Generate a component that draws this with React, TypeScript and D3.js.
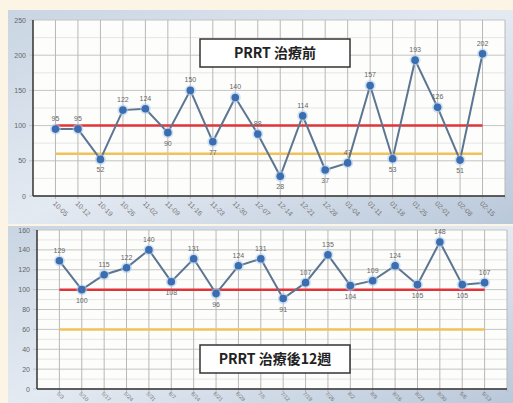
import * as d3 from "d3";

// values
const beforeDates = [
  "10-05", "10-12", "10-19", "10-26", "11-02", "11-09", "11-16", "11-23", "11-30", "12-07",
  "12-14", "12-21", "12-28", "01-04", "01-11", "01-18", "01-25", "02-01", "02-08", "02-15",
];
const beforeValues = [95, 95, 52, 122, 124, 90, 150, 77, 140, 88, 28, 114, 37, 47, 157, 53, 193, 126, 51, 202];
const beforeTicks = [0, 50, 100, 150, 200, 250];

const afterDates = [
  "5/3", "5/10", "5/17", "5/24", "5/31", "6/7", "6/14", "6/21", "6/28", "7/5",
  "7/12", "7/19", "7/26", "8/2", "8/9", "8/16", "8/23", "8/30", "9/6", "9/13",
];
const afterValues = [129, 100, 115, 122, 140, 108, 131, 96, 124, 131, 91, 107, 135, 104, 109, 124, 105, 148, 105, 107];
const afterTicks = [0, 20, 40, 60, 80, 100, 120, 140, 160];

const redLevel = 100;
const orangeLevel = 60;

interface PanelProps {
  id: string;
  top: number;
  bottom: number;
  plotLeft: number;
  plotRight: number;
  plotTop: number;
  plotBottom: number;
  values: number[];
  dates: string[];
  ticks: number[];
  title: string;
  titleY: number;
  dateSize: number;
  dateGap: number;
}

function Panel({ id, top, bottom, plotLeft, plotRight, plotTop, plotBottom, values, dates, ticks, title, titleY, dateSize, dateGap }: PanelProps) {
  const yMax = ticks[ticks.length - 1];
  const x = d3.scaleLinear().domain([-1, values.length]).range([plotLeft, plotRight]);
  const y = d3.scaleLinear().domain([0, yMax]).range([plotBottom, plotTop]);
  const step = ticks[1] - ticks[0];
  const minor = d3.range(step / 2, yMax, step);
  const line = d3
    .line<number>()
    .x((_, i) => x(i))
    .y((d) => y(d));

  // labels go under the local lows
  const below = (i: number) => {
    const prev = i > 0 ? values[i - 1] : Infinity;
    const next = i < values.length - 1 ? values[i + 1] : Infinity;
    return values[i] < prev && values[i] < next;
  };

  return (
    <g>
      <defs>
        <linearGradient id={id + "bg"} x1="0" y1="0" x2="1" y2="1">
          <stop offset="0" stopColor="#c9d5e3" />
          <stop offset="0.5" stopColor="#e4eaf2" />
          <stop offset="1" stopColor="#b9c8da" />
        </linearGradient>
      </defs>
      <rect x={8} y={top} width={505} height={bottom - top} fill={`url(#${id}bg)`} />
      <rect x={plotLeft} y={plotTop} width={plotRight - plotLeft} height={plotBottom - plotTop} fill="#fdfdfb" />
      {minor.map((t) => (
        <line key={"m" + t} x1={plotLeft} x2={plotRight} y1={y(t)} y2={y(t)} stroke="#e6e6e6" strokeWidth={1} />
      ))}
      {ticks.map((t) => (
        <line key={"h" + t} x1={plotLeft - 4} x2={plotRight} y1={y(t)} y2={y(t)} stroke="#c4c4c4" strokeWidth={1} />
      ))}
      {d3.range(0, values.length + 1).map((i) => (
        <line key={"v" + i} x1={x(i)} x2={x(i)} y1={plotTop} y2={plotBottom + 3} stroke="#b8b8b8" strokeWidth={1} />
      ))}
      <line x1={plotLeft} x2={plotLeft} y1={plotTop} y2={plotBottom} stroke="#333" strokeWidth={1.5} />
      <line x1={plotLeft} x2={plotRight} y1={plotBottom} y2={plotBottom} stroke="#333" strokeWidth={1.5} />
      {ticks.map((t) => (
        <text key={"t" + t} x={plotLeft - 7} y={y(t) + 2.5} fontSize={7} fill="#666" textAnchor="end" fontFamily="Liberation Sans">
          {t}
        </text>
      ))}
      {dates.map((d, i) => (
        <text
          key={"d" + i}
          transform={`translate(${x(i) - 3},${plotBottom + dateGap}) rotate(45)`}
          fontSize={dateSize}
          fill="#777"
          fontFamily="Liberation Sans"
        >
          {d}
        </text>
      ))}
      <line x1={x(0)} x2={x(values.length - 1)} y1={y(orangeLevel)} y2={y(orangeLevel)} stroke="#f2c25a" strokeWidth={2.5} />
      <line x1={x(0)} x2={x(values.length - 1)} y1={y(redLevel)} y2={y(redLevel)} stroke="#e0343a" strokeWidth={2.5} />
      <path d={line(values) ?? ""} fill="none" stroke="#5c7591" strokeWidth={2} />
      {values.map((v, i) => (
        <g key={"p" + i}>
          <circle cx={x(i)} cy={y(v)} r={5.5} fill="#a9cdef" opacity={0.55} />
          <circle cx={x(i)} cy={y(v)} r={3.8} fill="#3b6db0" />
          <text
            x={x(i)}
            y={below(i) ? y(v) + 13 : y(v) - 8}
            fontSize={7}
            fill="#666"
            textAnchor="middle"
            fontFamily="Liberation Sans"
          >
            {v}
          </text>
        </g>
      ))}
      <rect x={200} y={titleY} width={150} height={28} fill="#fff" stroke="#333" strokeWidth={1.5} />
      <text
        x={275}
        y={titleY + 19}
        fontSize={14}
        fontWeight="bold"
        textAnchor="middle"
        fill="#222"
        fontFamily="'Noto Sans CJK TC', sans-serif"
      >
        {title}
      </text>
    </g>
  );
}

export default function App() {
  return (
    <svg width={513} height={403} style={{ position: "absolute", left: 0, top: 0 }}>
      <rect x={0} y={0} width={513} height={403} fill="#fcf4e4" />
      <Panel
        id="before"
        top={10}
        bottom={224}
        plotLeft={33}
        plotRight={505}
        plotTop={20}
        plotBottom={196}
        values={beforeValues}
        dates={beforeDates}
        ticks={beforeTicks}
        title="PRRT 治療前"
        titleY={39}
        dateSize={7}
        dateGap={8}
      />
      <Panel
        id="after"
        top={226}
        bottom={403}
        plotLeft={37}
        plotRight={507}
        plotTop={230}
        plotBottom={389}
        values={afterValues}
        dates={afterDates}
        ticks={afterTicks}
        title="PRRT 治療後12週"
        titleY={345}
        dateSize={5.5}
        dateGap={5}
      />
    </svg>
  );
}
